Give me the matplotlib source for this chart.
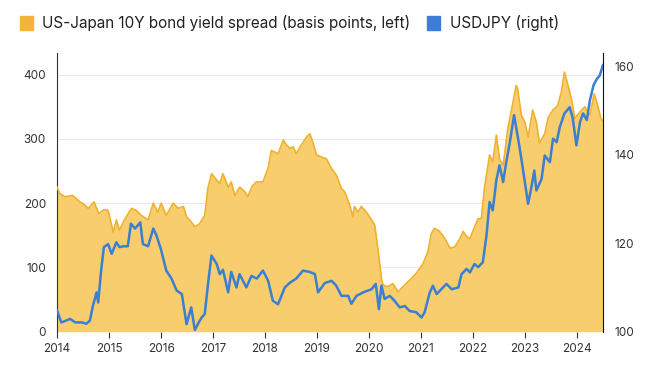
import matplotlib
matplotlib.use("Agg")
import matplotlib.pyplot as plt
from matplotlib.patches import Patch

plt.rcParams['font.family'] = ['Inter', 'DejaVu Sans']

# US-Japan 10Y spread (bp, left axis)
spread_t = [2014.0, 2014.05, 2014.15, 2014.3, 2014.44, 2014.52, 2014.6, 2014.71, 2014.8, 2014.9,
            2014.98, 2015.08, 2015.14, 2015.2, 2015.3, 2015.43, 2015.52, 2015.62, 2015.75, 2015.85,
            2015.94, 2016.0, 2016.1, 2016.23, 2016.33, 2016.43, 2016.49, 2016.58, 2016.65, 2016.74,
            2016.84, 2016.9, 2016.97, 2017.07, 2017.13, 2017.19, 2017.29, 2017.35, 2017.42, 2017.51,
            2017.61, 2017.67, 2017.74, 2017.83, 2017.96, 2018.06, 2018.12, 2018.25, 2018.35, 2018.41,
            2018.48, 2018.54, 2018.6, 2018.7, 2018.8, 2018.86, 2018.92, 2018.99, 2019.08, 2019.18,
            2019.28, 2019.37, 2019.47, 2019.53, 2019.63, 2019.69, 2019.72, 2019.79, 2019.85, 2019.95,
            2020.05, 2020.11, 2020.17, 2020.24, 2020.27, 2020.36, 2020.46, 2020.56, 2020.65, 2020.78,
            2020.91, 2021.04, 2021.13, 2021.2, 2021.26, 2021.36, 2021.46, 2021.56, 2021.65, 2021.75,
            2021.81, 2021.88, 2021.94, 2022.03, 2022.1, 2022.16, 2022.22, 2022.32, 2022.38, 2022.45,
            2022.51, 2022.58, 2022.67, 2022.77, 2022.83, 2022.86, 2022.93, 2023.0, 2023.06, 2023.15,
            2023.22, 2023.28, 2023.38, 2023.45, 2023.54, 2023.63, 2023.7, 2023.76, 2023.83, 2023.9,
            2023.96, 2024.06, 2024.15, 2024.25, 2024.33, 2024.4, 2024.46, 2024.5]
spread = [225, 215, 210, 212, 202, 198, 192, 202, 184, 190,
          189, 155, 174, 158, 175, 192, 189, 181, 174, 200,
          186, 200, 181, 200, 192, 195, 179, 171, 163, 168,
          181, 223, 246, 236, 231, 246, 225, 233, 212, 225,
          218, 210, 225, 233, 233, 255, 282, 277, 298, 291,
          285, 288, 277, 291, 303, 308, 295, 275, 272, 269,
          254, 244, 223, 218, 197, 179, 195, 186, 195, 186,
          174, 166, 130, 83, 73, 70, 75, 62, 70, 80,
          91, 106, 124, 153, 161, 156, 145, 130, 132, 145,
          156, 148, 145, 163, 176, 176, 223, 275, 264, 306,
          269, 259, 316, 357, 383, 378, 337, 326, 303, 345,
          326, 293, 308, 334, 345, 352, 373, 404, 383, 360,
          332, 342, 350, 337, 370, 352, 332, 328]

# USDJPY (right axis)
fx_t = [2014.0, 2014.08, 2014.17, 2014.25, 2014.35, 2014.48, 2014.56, 2014.63, 2014.69, 2014.76,
        2014.79, 2014.85, 2014.9, 2014.98, 2015.05, 2015.14, 2015.2, 2015.27, 2015.36, 2015.42,
        2015.5, 2015.6, 2015.65, 2015.75, 2015.85, 2015.91, 2016.0, 2016.1, 2016.2, 2016.3,
        2016.4, 2016.49, 2016.58, 2016.65, 2016.72, 2016.78, 2016.84, 2016.91, 2016.97, 2017.07,
        2017.13, 2017.19, 2017.29, 2017.35, 2017.45, 2017.51, 2017.64, 2017.74, 2017.84, 2017.96,
        2018.06, 2018.15, 2018.25, 2018.38, 2018.47, 2018.6, 2018.73, 2018.86, 2018.96, 2019.02,
        2019.15, 2019.28, 2019.37, 2019.47, 2019.6, 2019.66, 2019.76, 2019.89, 2020.05, 2020.13,
        2020.19, 2020.24, 2020.3, 2020.4, 2020.49, 2020.59, 2020.69, 2020.78, 2020.91, 2021.01,
        2021.07, 2021.17, 2021.23, 2021.3, 2021.49, 2021.59, 2021.72, 2021.78, 2021.88, 2021.94,
        2022.03, 2022.1, 2022.19, 2022.26, 2022.32, 2022.38, 2022.45, 2022.51, 2022.58, 2022.64,
        2022.71, 2022.79, 2022.83, 2022.89, 2022.96, 2023.06, 2023.13, 2023.18, 2023.22, 2023.32,
        2023.38, 2023.48, 2023.54, 2023.61, 2023.67, 2023.76, 2023.86, 2023.92, 2023.99, 2024.06,
        2024.12, 2024.19, 2024.25, 2024.32, 2024.38, 2024.44, 2024.5]
usdjpy = [104.8, 102.1, 102.5, 102.9, 102.1, 102.1, 101.8, 102.5, 105.9, 108.9,
          106.6, 114.2, 119.1, 119.8, 117.6, 120.2, 119.1, 119.3, 119.3, 124.4,
          123.3, 124.7, 119.8, 119.3, 123.3, 121.8, 118.5, 113.8, 112.0, 109.3,
          108.5, 101.7, 105.5, 100.4, 102.0, 103.2, 104.0, 111.5, 117.2, 115.3,
          113.0, 114.0, 108.9, 113.5, 110.0, 113.0, 110.0, 112.6, 112.0, 113.8,
          111.5, 107.0, 106.2, 110.0, 111.0, 112.0, 113.8, 113.5, 113.0, 108.9,
          111.0, 111.5, 110.4, 108.1, 108.1, 106.3, 108.1, 108.9, 109.6, 110.8,
          105.1, 110.4, 107.4, 108.1, 107.0, 105.5, 105.8, 104.7, 104.4, 103.2,
          104.4, 108.9, 110.4, 108.5, 110.8, 109.6, 110.0, 113.0, 114.2, 113.4,
          115.3, 114.6, 115.7, 121.7, 129.3, 127.4, 134.2, 137.6, 133.8, 138.3,
          142.8, 148.9, 146.2, 142.1, 136.8, 128.9, 133.0, 136.4, 131.9, 134.5,
          139.8, 138.3, 143.6, 142.8, 146.2, 149.3, 150.7, 148.2, 142.1, 147.4,
          149.3, 147.8, 152.3, 155.7, 157.0, 157.9, 160.2]

years = list(range(2014, 2025))
left_ticks = [0, 100, 200, 300, 400]
right_ticks = [100, 120, 140, 160]

orange_fill = '#F8CD6D'
orange_line = '#F0B12E'
blue = '#3A7FD3'

fig = plt.figure(figsize=(6.49, 3.69), dpi=100)
ax = fig.add_axes([0.088, 0.101, 0.841, 0.756])
ax2 = ax.twinx()

ax.fill_between(spread_t, 0, spread, color=orange_fill, lw=0, zorder=2)
ax.plot(spread_t, spread, color=orange_line, lw=1.2, zorder=3)
ax2.plot(fx_t, usdjpy, color=blue, lw=1.8, zorder=4)

ax.set_xlim(2014, 2024.5)
ax.set_ylim(0, 434)
ax2.set_ylim(100, 163)
ax.set_xticks(years)
ax.set_xticklabels([str(y) for y in years])
ax.set_yticks(left_ticks)
ax2.set_yticks(right_ticks)

ax.grid(axis='y', color='#E8E8E8', lw=0.8, zorder=0)
ax.set_axisbelow(True)

for a in (ax, ax2):
    a.spines['top'].set_visible(False)
    a.spines['bottom'].set_visible(False)
ax.spines['left'].set_color('#333333')
ax.spines['right'].set_visible(False)
ax2.spines['left'].set_visible(False)
ax2.spines['right'].set_color('#111111')

ax.tick_params(axis='y', length=0, labelsize=8.5, labelcolor='#333333', pad=8)
ax2.tick_params(axis='y', length=0, labelsize=8.5, labelcolor='#333333', pad=8)
ax.tick_params(axis='x', length=4, width=0.8, color='#333333', labelsize=8.5,
               labelcolor='#333333', pad=4)

handles = [Patch(color='#F2B53A', label='US-Japan 10Y bond yield spread (basis points, left)'),
           Patch(color='#3B7DD8', label='USDJPY (right)')]
fig.legend(handles=handles, loc='center left', bbox_to_anchor=(0.01, 0.937), ncol=2,
           frameon=False, fontsize=11, handlelength=0.85, handleheight=1.1,
           handletextpad=0.6, columnspacing=1.1, labelcolor='#222222')

fig.savefig('out.png', dpi=100)
